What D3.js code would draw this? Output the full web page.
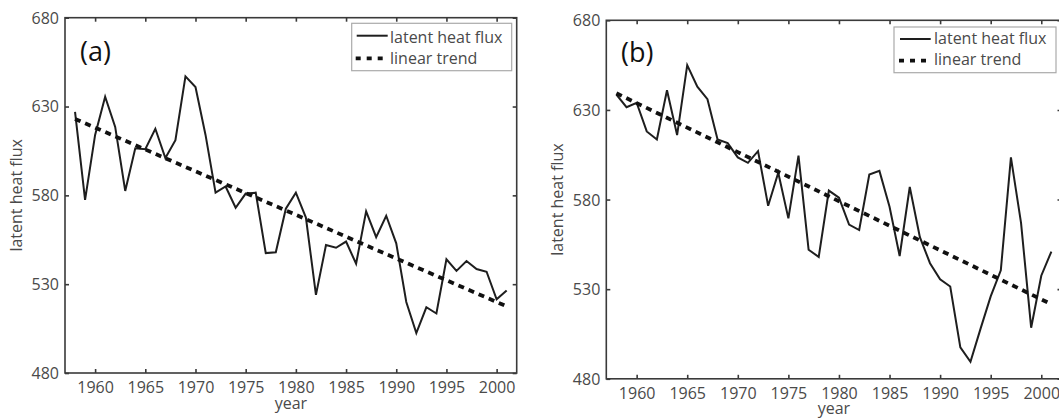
<!DOCTYPE html>
<html>
<head>
<meta charset="utf-8">
<script src="https://cdn.jsdelivr.net/npm/d3@7"></script>
<style>
  html, body { margin: 0; padding: 0; background: #fff; }
  svg { display: block; }
  text { font-family: "Open Sans", "DejaVu Sans", sans-serif; }
</style>
</head>
<body>
<svg id="chart" width="1059" height="418"></svg>
<script>
// ---- data ----
const years = [1958,1959,1960,1961,1962,1963,1964,1965,1966,1967,1968,1969,1970,
  1971,1972,1973,1974,1975,1976,1977,1978,1979,1980,1981,1982,1983,1984,1985,
  1986,1987,1988,1989,1990,1991,1992,1993,1994,1995,1996,1997,1998,1999,2000,2001];

const fluxA = [627,577.5,614,635.5,618.5,582.5,606.5,606,617.5,601,611,647,641,
  614,581.5,585,573,581,581.5,547.5,548,572.5,581.5,567.5,524,552,550.5,554,
  541.5,571,556.5,568.5,553,520,502.5,517,513.5,544,537.5,543,538.5,537,521.5,526.5];

const fluxB = [638.5,631.5,634,618,613.5,641,616,655,643,636,613.5,611.5,603.5,
  600.5,607,576.5,595,569.5,604.5,552,548,585,581,566,563,594,596,576,
  548.5,587,559,544.5,535.5,531.5,497.5,489.5,508,526,540.5,603.5,567,508.5,537.5,551];

const trendYears = [1958, 2001];
const trendA = [623, 517.5];
const trendB = [639.3, 521.6];

const xTicks = [1960,1965,1970,1975,1980,1985,1990,1995,2000];
const yTicks = [480,530,580,630,680];
const xDomain = [1957, 2002];
const yDomain = [480, 680];

const panelLabels = ["(a)", "(b)"];
const legendLabels = ["latent heat flux", "linear trend"];
const xTitle = "year";
const yTitle = "latent heat flux";

// ---- drawing ----
const svg = d3.select("#chart");
const axisColor = "#3a3a3a";
const textColor = "#4a4a4a";

function drawPanel(p) {
  const x = d3.scaleLinear().domain(xDomain).range([p.left, p.right]);
  const y = d3.scaleLinear().domain(yDomain).range([p.bottom, p.top]);
  const g = svg.append("g");

  // frame
  g.append("rect")
    .attr("x", p.left).attr("y", p.top)
    .attr("width", p.right - p.left).attr("height", p.bottom - p.top)
    .attr("fill", "none").attr("stroke", axisColor).attr("stroke-width", 1.6);

  // axes with inward ticks (all four sides)
  const ax = [
    g.append("g").attr("transform", `translate(0,${p.bottom})`)
      .call(d3.axisBottom(x).tickValues(xTicks).tickFormat(d3.format("d")).tickSizeInner(-4).tickSizeOuter(0).tickPadding(0)),
    g.append("g").attr("transform", `translate(0,${p.top})`)
      .call(d3.axisTop(x).tickValues(xTicks).tickFormat("").tickSizeInner(-4).tickSizeOuter(0)),
    g.append("g").attr("transform", `translate(${p.left},0)`)
      .call(d3.axisLeft(y).tickValues(yTicks).tickFormat(d3.format("d")).tickSizeInner(-4).tickSizeOuter(0).tickPadding(0)),
    g.append("g").attr("transform", `translate(${p.right},0)`)
      .call(d3.axisRight(y).tickValues(yTicks).tickFormat("").tickSizeInner(-4).tickSizeOuter(0))
  ];
  ax.forEach(a => {
    a.select(".domain").remove();
    a.selectAll(".tick line").attr("stroke", axisColor).attr("stroke-width", 1.6);
    a.selectAll("text").attr("font-family", '"Open Sans", sans-serif')
      .attr("font-size", 16).attr("fill", textColor);
  });
  ax[0].selectAll(".tick text").attr("y", 20).attr("dy", 0).attr("text-anchor", "middle");
  ax[2].selectAll(".tick text").attr("x", -6).attr("dy", "0.34em").attr("text-anchor", "end");

  // axis titles
  g.append("text")
    .attr("x", (p.left + p.right) / 2).attr("y", p.bottom + 35.5)
    .attr("text-anchor", "middle").attr("font-size", 16).attr("fill", textColor)
    .text(xTitle);
  g.append("text")
    .attr("transform", `translate(${p.left - 43},${(p.top + p.bottom) / 2}) rotate(-90)`)
    .attr("text-anchor", "middle").attr("font-size", 16).attr("fill", textColor)
    .text(yTitle);

  // data line
  const line = d3.line().x((d, i) => x(years[i])).y(d => y(d));
  g.append("path").datum(p.flux)
    .attr("d", line).attr("fill", "none")
    .attr("stroke", "#1e1e1e").attr("stroke-width", 2).attr("stroke-linejoin", "miter");

  // trend line
  const tline = d3.line().x((d, i) => x(trendYears[i])).y(d => y(d));
  g.append("path").datum(p.trend)
    .attr("d", tline).attr("fill", "none")
    .attr("stroke", "#111").attr("stroke-width", 3.8).attr("stroke-dasharray", "6,5");

  // panel label
  g.append("text")
    .attr("x", p.labX).attr("y", p.labY)
    .attr("font-family", '"Liberation Sans", Arial, sans-serif')
    .attr("font-size", 27).attr("fill", "#111")
    .text(p.label);

  // legend
  const L = p.legend;
  g.append("rect")
    .attr("x", L.x0).attr("y", L.y0).attr("width", L.x1 - L.x0).attr("height", L.y1 - L.y0)
    .attr("fill", "#fff").attr("stroke", "#aaa").attr("stroke-width", 1.2);
  g.append("line")
    .attr("x1", L.sx0).attr("x2", L.sx1).attr("y1", L.ly1).attr("y2", L.ly1)
    .attr("stroke", "#1e1e1e").attr("stroke-width", 2);
  g.append("line")
    .attr("x1", L.sx0 - 1).attr("x2", L.sx1 + 1).attr("y1", L.ly2).attr("y2", L.ly2)
    .attr("stroke", "#111").attr("stroke-width", 3.8).attr("stroke-dasharray", "5,6");
  g.append("text").attr("x", L.tx).attr("y", L.ty1)
    .attr("font-size", 16).attr("fill", textColor).text(legendLabels[0]);
  g.append("text").attr("x", L.tx).attr("y", L.ty2)
    .attr("font-size", 16).attr("fill", textColor).text(legendLabels[1]);
}

drawPanel({
  left: 65, right: 516.7, top: 17.7, bottom: 373,
  flux: fluxA, trend: trendA, label: panelLabels[0], labX: 80, labY: 61,
  legend: { x0: 351.7, x1: 511.7, y0: 23.3, y1: 70.7, sx0: 356.7, sx1: 387.7,
            ly1: 35.7, ly2: 58.3, tx: 390, ty1: 43, ty2: 64 }
});
drawPanel({
  left: 606.3, right: 1061.5, top: 20.3, bottom: 378.8,
  flux: fluxB, trend: trendB, label: panelLabels[1], labX: 621, labY: 62,
  legend: { x0: 894, x1: 1056, y0: 27, y1: 72.7, sx0: 900, sx1: 930.7,
            ly1: 39, ly2: 60.7, tx: 934, ty1: 44, ty2: 65 }
});
</script>
</body>
</html>
